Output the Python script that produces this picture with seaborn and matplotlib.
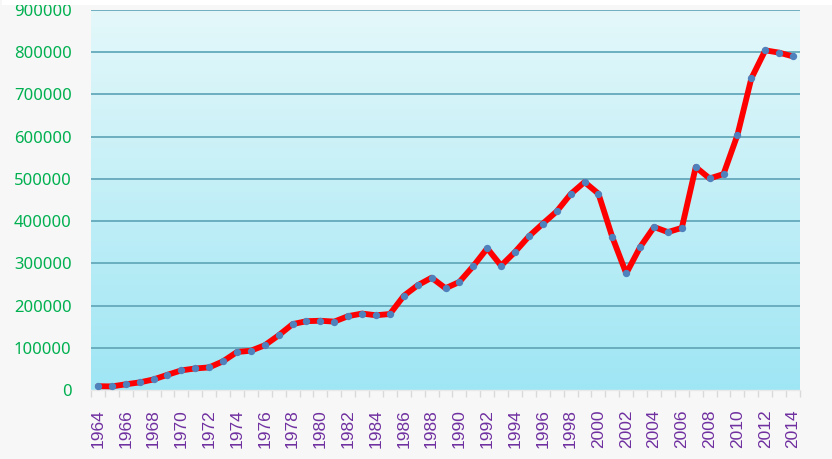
import numpy as np
import pandas as pd
import matplotlib
matplotlib.use("Agg")
import matplotlib.pyplot as plt
import seaborn as sns
from matplotlib.colors import LinearSegmentedColormap
from matplotlib.patches import Rectangle

years = list(range(1964, 2015))
values = [9000, 8500, 13500, 18000, 25000, 36000, 46500, 51000, 53500, 68000,
          90000, 93000, 106000, 129500, 156000, 163000, 164000, 162000, 175000, 181000,
          177000, 180000, 223000, 248000, 266000, 241000, 256000, 293500, 335500, 294500,
          327000, 364000, 394000, 423000, 464000, 492500, 465000, 362000, 276000, 338500,
          386000, 374000, 384000, 528000, 501000, 511500, 604000, 738000, 804500, 799000,
          790000]
y_ticks = [0, 100000, 200000, 300000, 400000, 500000, 600000, 700000, 800000, 900000]
x_tick_labels = [str(y) for y in years[::2]]

df = pd.DataFrame({"year": years, "value": values})

sns.set_theme(style="white")
plt.rcParams['font.family'] = ['Noto Sans', 'DejaVu Sans']

fig = plt.figure(figsize=(8.32, 4.59), dpi=100, facecolor="#f7f7f7")
ax = fig.add_axes([91/832, 69/459, 709/832, 380/459])

# gradient background
cmap = LinearSegmentedColormap.from_list("bg", ["#9fe6f4", "#e4f8fa"])
grad = np.linspace(0, 1, 256).reshape(-1, 1)
ax.imshow(grad, cmap=cmap, aspect="auto", extent=[0, 1, 0, 1],
          transform=ax.transAxes, origin="lower", zorder=0)

for t in y_ticks[1:]:
    ax.axhline(t, color="#64a9bb", lw=1.3, zorder=1)

sns.lineplot(data=df, x="year", y="value", ax=ax, color="#ff0000", lw=4.2,
             zorder=3, solid_capstyle="round")
ax.scatter(df["year"], df["value"], s=28, color="#4f81bd", zorder=4, linewidths=0)

ax.set_xlim(years[0] - 0.5, years[-1] + 0.5)
ax.set_ylim(0, 900000)
ax.set_yticks(y_ticks)
ax.set_yticklabels([str(t) for t in y_ticks])
ax.set_xticks(years[::2])
ax.set_xticklabels(x_tick_labels, rotation=90, family=["Liberation Sans", "DejaVu Sans"])
ax.set_xticks(np.arange(years[0] - 0.5, years[-1] + 1.0, 1.0), minor=True)

ax.tick_params(axis="y", colors="#00b050", labelsize=12, length=0, pad=14)
ax.tick_params(axis="x", which="major", colors="#7030a0", labelsize=12.5, length=0, pad=14)
ax.tick_params(axis="x", which="minor", bottom=True, length=5, width=1, color="#d9d9d9")
for lab in ax.get_yticklabels():
    lab.set_color("#00b050")
for lab in ax.get_xticklabels():
    lab.set_color("#7030a0")

ax.set_xlabel("")
ax.set_ylabel("")
for s in ["top", "right", "left"]:
    ax.spines[s].set_visible(False)
ax.spines["bottom"].set_color("#e8e8e8")
ax.spines["bottom"].set_linewidth(1)
ax.grid(False)

# thin white strip along the top edge of the image
fig.add_artist(Rectangle((2/832, 454/459), 1, 5/459, transform=fig.transFigure,
                         facecolor="white", edgecolor="none", zorder=10))

fig.savefig("out.png", dpi=100, facecolor=fig.get_facecolor())
